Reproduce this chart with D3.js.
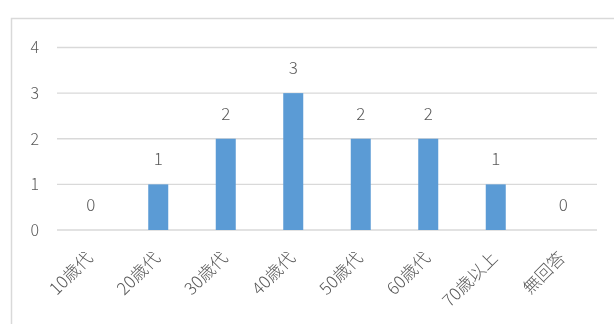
<!DOCTYPE html>
<html><head><meta charset="utf-8">
<script src="https://cdn.jsdelivr.net/npm/d3@7"></script>
<style>
body{margin:0;background:#fff;}
text{font-family:"Noto Sans CJK JP","Noto Sans",sans-serif;fill:#595959;font-weight:300;}
</style></head>
<body><svg id="c" width="614" height="324"></svg>
<script>
const categories = ["10歳代","20歳代","30歳代","40歳代","50歳代","60歳代","70歳以上","無回答"];
const values = [0,1,2,3,2,2,1,0];
const yTicks = [0,1,2,3,4];

const svg = d3.select("#c");
svg.append("path").attr("d","M11.5,324 L11.5,18.5 L614,18.5")
  .attr("fill","none").attr("stroke","#d9d9d9").attr("stroke-width",1.5);

const x = d3.scaleBand().domain(categories).range([57,597]).paddingInner(0).paddingOuter(0);
const y = d3.scaleLinear().domain([0,4]).range([230,47.5]);

const g = svg.append("g");
g.selectAll("line.grid").data(yTicks).join("line")
  .attr("x1",57).attr("x2",597)
  .attr("y1",d=>y(d)).attr("y2",d=>y(d))
  .attr("stroke","#d9d9d9").attr("stroke-width",1.3);

const tg = svg.append("g").attr("opacity",0.999);
tg.selectAll("text.yt").data(yTicks).join("text")
  .attr("x",39).attr("y",d=>y(d)).attr("dy","0.36em")
  .attr("text-anchor","end").attr("font-size",16).text(d=>d);

const bw = 20;
g.selectAll("rect").data(values).join("rect")
  .attr("x",(d,i)=>x(categories[i])+x.bandwidth()/2-bw/2)
  .attr("width",bw)
  .attr("y",d=>y(d)).attr("height",d=>y(0)-y(d))
  .attr("fill","#5b9bd5");

tg.selectAll("text.lbl").data(values).join("text")
  .attr("x",(d,i)=>x(categories[i])+x.bandwidth()/2)
  .attr("y",d=>y(d)-25).attr("dy","0.36em")
  .attr("text-anchor","middle").attr("font-size",17).text(d=>d);

tg.selectAll("text.cat").data(categories).join("text")
  .attr("transform",d=>`translate(${x(d)+x.bandwidth()/2+3},${259}) rotate(-45)`)
  .attr("text-anchor","end").attr("font-size",17).text(d=>d);
</script></body></html>
